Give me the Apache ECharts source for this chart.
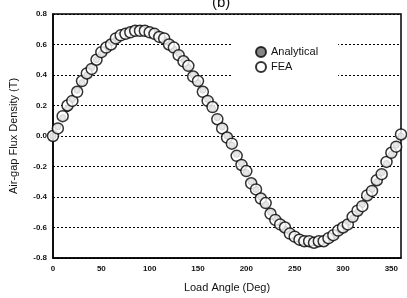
<!DOCTYPE html>
<html>
<head>
<meta charset="utf-8">
<script src="https://cdn.jsdelivr.net/npm/echarts@6/dist/echarts.min.js"></script>
<style>
  html, body { margin: 0; padding: 0; background: #fff; }
  #chart1 { width: 407px; height: 298px; }
</style>
</head>
<body>
<div id="chart1"></div>
<script>
// load angle (deg)
var angles = [0, 5, 10, 15, 20, 25, 30, 35, 40, 45, 50, 55, 60, 65, 70, 75, 80, 85, 90,
    95, 100, 105, 110, 115, 120, 125, 130, 135, 140, 145, 150, 155, 160, 165, 170, 175, 180,
    185, 190, 195, 200, 205, 210, 215, 220, 225, 230, 235, 240, 245, 250, 255, 260, 265, 270,
    275, 280, 285, 290, 295, 300, 305, 310, 315, 320, 325, 330, 335, 340, 345, 350, 355, 360];

// flux density (T)
var analytical = [0, 0.06, 0.12, 0.18, 0.24, 0.30, 0.35, 0.40, 0.45, 0.50, 0.54, 0.57, 0.61, 0.63, 0.66, 0.68, 0.69, 0.70, 0.70,
    0.70, 0.69, 0.68, 0.66, 0.63, 0.61, 0.57, 0.54, 0.50, 0.45, 0.40, 0.35, 0.30, 0.24, 0.18, 0.12, 0.06, 0,
    -0.06, -0.12, -0.18, -0.24, -0.30, -0.35, -0.40, -0.45, -0.50, -0.54, -0.57, -0.61, -0.63, -0.66, -0.68, -0.69, -0.70, -0.70,
    -0.70, -0.69, -0.68, -0.66, -0.63, -0.61, -0.57, -0.54, -0.50, -0.45, -0.40, -0.35, -0.30, -0.24, -0.18, -0.12, -0.06, 0];

var fea = [0, 0.05, 0.13, 0.20, 0.23, 0.29, 0.36, 0.41, 0.44, 0.50, 0.55, 0.58, 0.60, 0.64, 0.66, 0.67, 0.68, 0.69, 0.69,
    0.69, 0.68, 0.67, 0.65, 0.64, 0.60, 0.58, 0.53, 0.49, 0.46, 0.39, 0.36, 0.29, 0.23, 0.19, 0.11, 0.05, -0.01,
    -0.05, -0.13, -0.19, -0.23, -0.31, -0.35, -0.41, -0.44, -0.51, -0.55, -0.58, -0.60, -0.64, -0.66, -0.68, -0.69, -0.69, -0.70,
    -0.69, -0.69, -0.67, -0.65, -0.62, -0.60, -0.58, -0.53, -0.49, -0.46, -0.39, -0.36, -0.29, -0.25, -0.17, -0.11, -0.07, 0.01];

var yTicks = [-0.8, -0.6, -0.4, -0.2, 0.0, 0.2, 0.4, 0.6, 0.8];

function pairs(xs, ys) {
    var out = [];
    for (var i = 0; i < xs.length; i++) out.push([xs[i], ys[i]]);
    return out;
}

var font = '"Liberation Sans", Arial, sans-serif';

var option = {
    animation: false,
    backgroundColor: '#fff',
    title: {
        text: '(b)',
        left: 207,
        top: -10,
        textStyle: { fontFamily: font, fontSize: 15, fontWeight: 'normal', color: '#111' }
    },
    legend: {
        data: ['Analytical', 'FEA'],
        orient: 'vertical',
        left: 233,
        top: 38,
        width: 114,
        padding: [8, 20, 8, 22],
        itemGap: 3,
        itemWidth: 10,
        itemHeight: 10,
        backgroundColor: '#fff',
        textStyle: { fontFamily: font, fontSize: 11, color: '#111' },
        z: 10
    },
    grid: {
        left: 52,
        right: 6,
        top: 14,
        bottom: 38,
        show: true,
        borderColor: '#000',
        borderWidth: 1.5
    },
    xAxis: {
        type: 'value',
        min: 0,
        max: 360,
        interval: 50,
        name: 'Load Angle (Deg)',
        nameLocation: 'middle',
        nameGap: 24,
        nameTextStyle: { fontFamily: font, fontSize: 11, color: '#111' },
        axisLine: { show: true, onZero: false, lineStyle: { color: '#000', width: 1.5 } },
        axisTick: { show: false },
        splitLine: { show: false },
        axisLabel: {
            fontFamily: font, fontSize: 8, fontWeight: 'bold', color: '#111', margin: 7,
            formatter: function (v) { return v === 360 ? '' : String(v); }
        }
    },
    yAxis: {
        type: 'value',
        min: yTicks[0],
        max: yTicks[yTicks.length - 1],
        interval: 0.2,
        name: 'Air-gap Flux Density (T)',
        nameLocation: 'middle',
        nameGap: 34,
        nameTextStyle: { fontFamily: font, fontSize: 11, color: '#111' },
        axisLine: { show: true, onZero: false, lineStyle: { color: '#000', width: 1.5 } },
        axisTick: { show: false },
        splitLine: { show: true, lineStyle: { color: '#000', type: [2, 2], width: 1 } },
        axisLabel: {
            fontFamily: font, fontSize: 8, fontWeight: 'bold', color: '#111', margin: 6,
            formatter: function (v) { return v.toFixed(1); }
        }
    },
    series: [{
        name: 'Analytical',
        type: 'scatter',
        data: pairs(angles, analytical),
        symbol: 'circle',
        symbolSize: 6,
        itemStyle: { color: '#666', borderColor: '#000', borderWidth: 1 },
        z: 2
    }, {
        name: 'FEA',
        type: 'scatter',
        data: pairs(angles, fea),
        symbol: 'circle',
        symbolSize: 11,
        itemStyle: { color: '#fff', borderColor: '#000', borderWidth: 1.5 },
        z: 3
    }]
};

var myChart = echarts.init(document.getElementById('chart1'));
myChart.setOption(option);
</script>
</body>
</html>
